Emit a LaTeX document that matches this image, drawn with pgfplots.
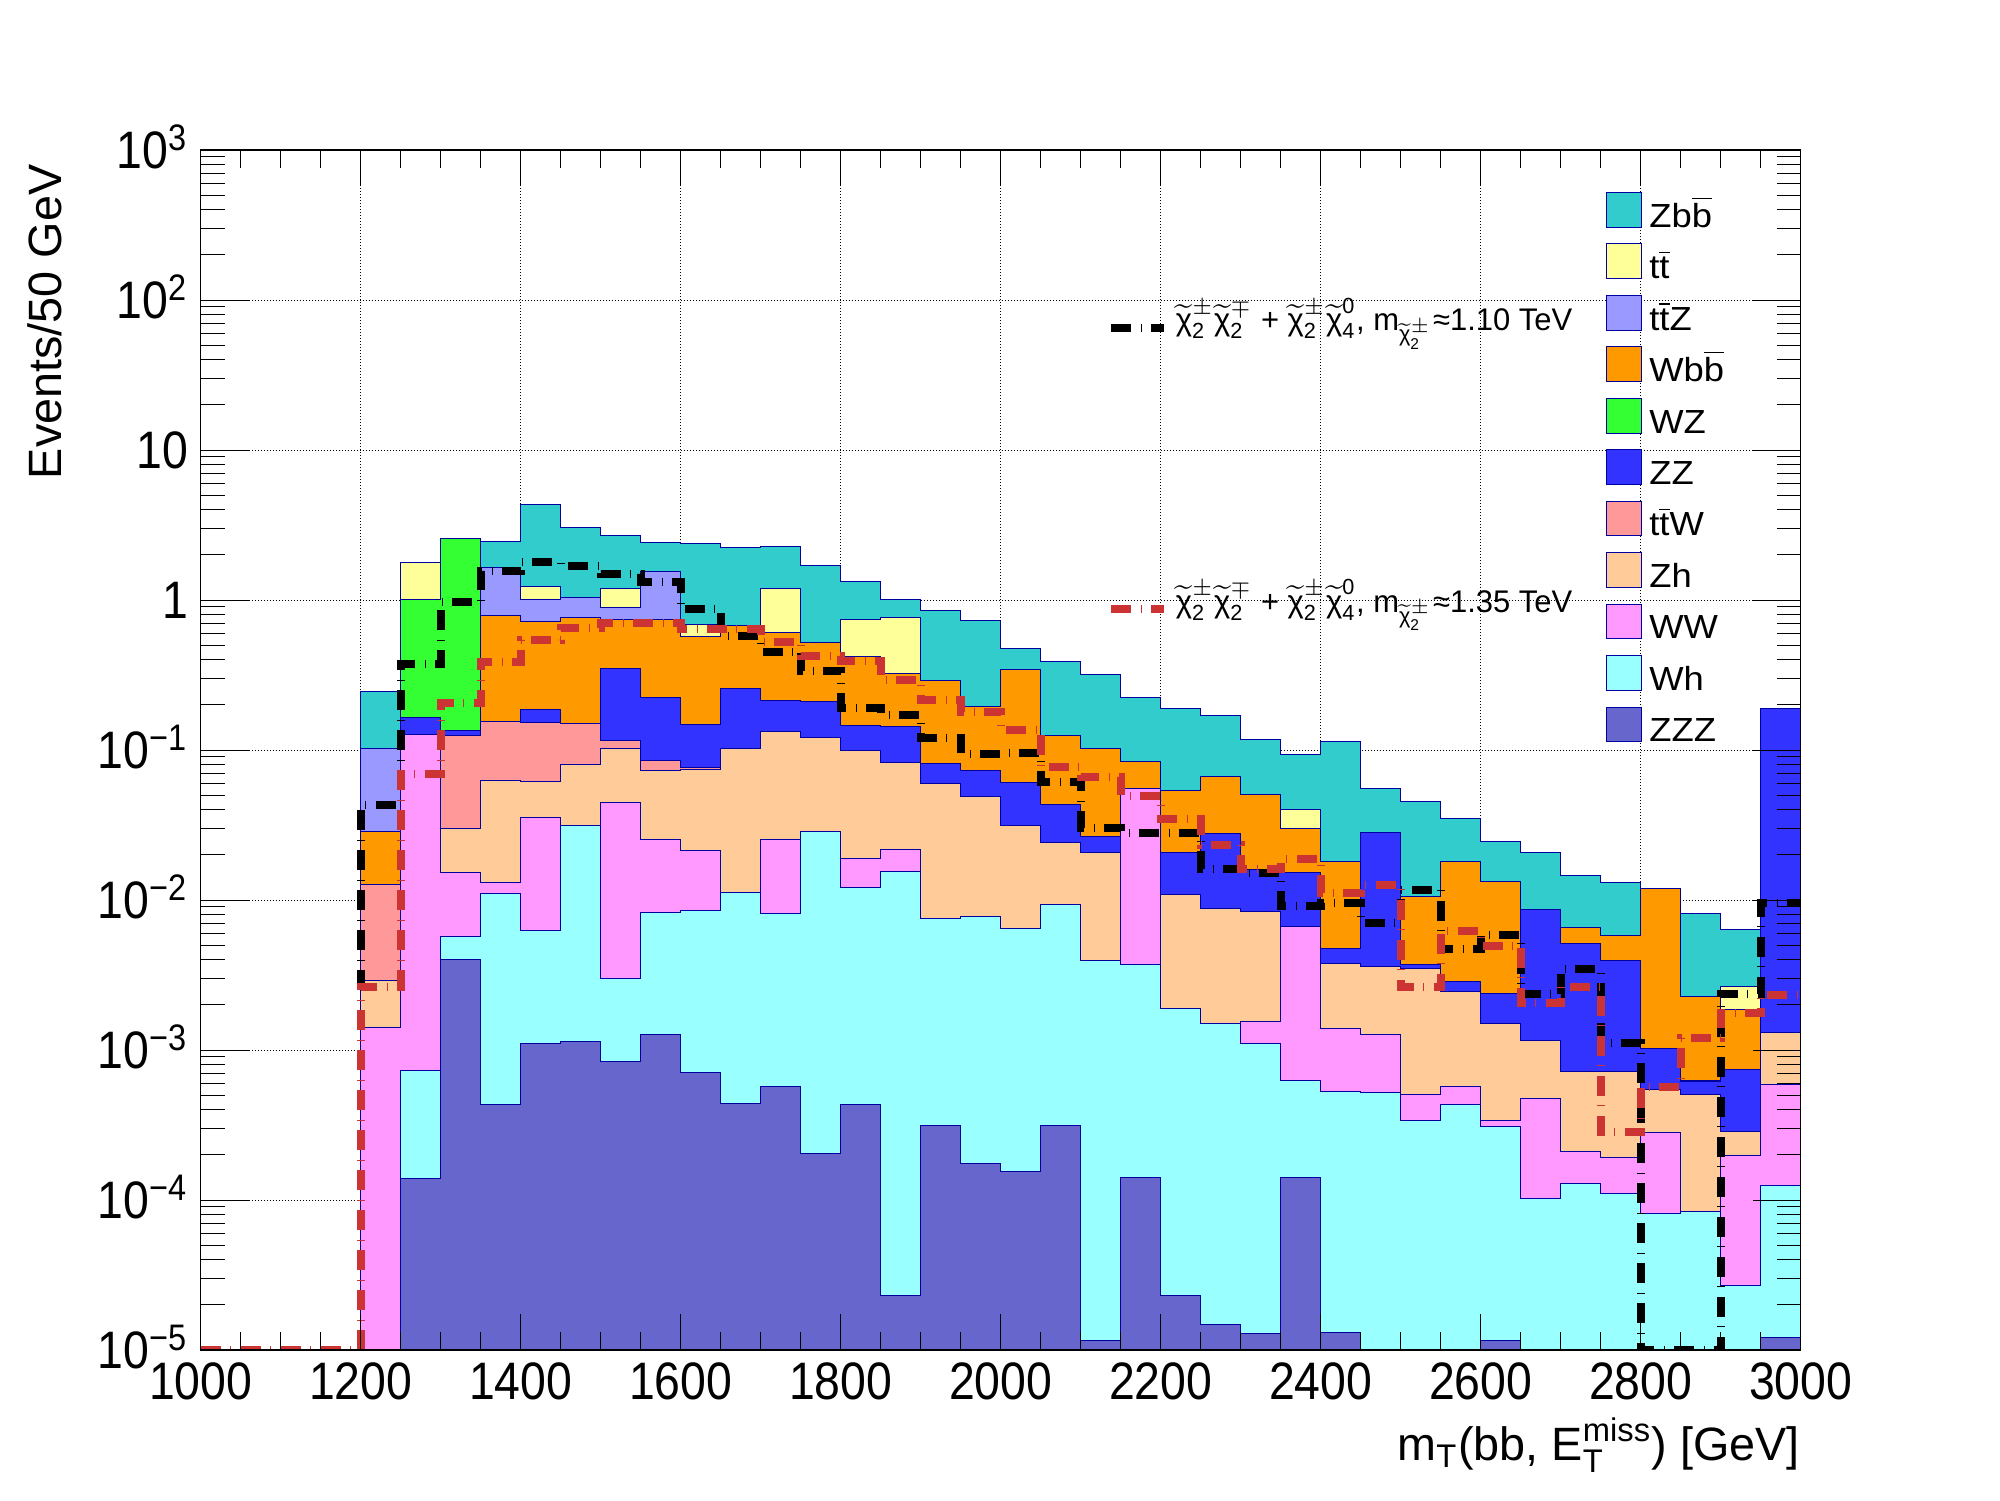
\documentclass[border=0pt]{standalone}
\usepackage{amsmath}
\usepackage{fontspec}
\setmainfont{Liberation Sans}
\newfontfamily\tickfont{Liberation Sans}[FakeStretch=0.88]
\newfontfamily\legfont{Liberation Sans}[FakeStretch=1.09]
\newfontfamily\sigfont{Liberation Sans}[FakeStretch=0.99]
\usepackage{pgfplots}
\usepackage{pgfplotstable}
\pgfplotsset{compat=1.18}

\definecolor{cZbb}{RGB}{51,204,204}
\definecolor{ctt}{RGB}{255,255,153}
\definecolor{cttZ}{RGB}{153,153,255}
\definecolor{cWbb}{RGB}{255,153,0}
\definecolor{cWZ}{RGB}{51,255,51}
\definecolor{cZZ}{RGB}{51,51,255}
\definecolor{cttW}{RGB}{255,153,153}
\definecolor{cZh}{RGB}{255,204,153}
\definecolor{cWW}{RGB}{255,153,255}
\definecolor{cWh}{RGB}{153,255,255}
\definecolor{cZZZ}{RGB}{102,102,204}
\definecolor{navyline}{RGB}{0,0,160}
\definecolor{sigred}{RGB}{204,51,51}

\newcommand{\cc}[2]{\widetilde{\text{χ}}^{#1}_{\text{#2}}}

% cumulative tops of the stacked layers (bin left edges, 50 GeV bins)
\pgfplotstableread{
x    zbb     tt      ttz     wbb     wz      zz      ttw     zh      ww      wh      zzz
1000 1e-9    1e-9    1e-9    1e-9    1e-9    1e-9    1e-9    1e-9    1e-9    1e-9    1e-9
1000 1e-9    1e-9    1e-9    1e-9    1e-9    1e-9    1e-9    1e-9    1e-9    1e-9    1e-9
1050 1e-9    1e-9    1e-9    1e-9    1e-9    1e-9    1e-9    1e-9    1e-9    1e-9    1e-9
1100 1e-9    1e-9    1e-9    1e-9    1e-9    1e-9    1e-9    1e-9    1e-9    1e-9    1e-9
1150 1e-9    1e-9    1e-9    1e-9    1e-9    1e-9    1e-9    1e-9    1e-9    1e-9    1e-9
1200 0.247   0.1026  0.1026  0.0288  0.0126  0.0126  0.0126  0.00292 0.00142 1e-9    1e-9
1250 1.78    1.78    1.015   1.015   1.015   0.165   0.127   0.127   0.127   7.3e-4  1.39e-4
1300 2.58    2.58    2.58    2.58    2.58    0.134   0.125   0.030   0.0153  0.00573 0.00402
1350 2.46    1.64    1.64    0.79    0.156   0.156   0.156   0.0628  0.0131  0.0111  4.3e-4
1400 4.35    1.23    1.01    0.72    0.187   0.187   0.152   0.0621  0.0356  0.00628 0.00111
1450 3.05    1.04    1.04    0.759   0.151   0.151   0.151   0.0803  0.0316  0.0316  0.00114
1500 2.70    1.20    0.894   0.744   0.351   0.351   0.116   0.103   0.0448  0.0030  8.4e-4
1550 2.43    1.55    1.55    0.744   0.224   0.224   0.0854  0.0732  0.0254  0.00828 0.00127
1600 2.38    0.689   0.575   0.575   0.147   0.147   0.077   0.0736  0.0214  0.00853 7.1e-4
1650 2.24    0.678   0.678   0.678   0.258   0.258   0.1026  0.1026  0.01125 0.01125 4.4e-4
1700 2.28    1.20    0.603   0.603   0.214   0.214   0.132   0.132   0.0254  0.00815 5.7e-4
1750 1.69    0.522   0.522   0.522   0.21    0.21    0.121   0.121   0.0287  0.0287  2.03e-4
1800 1.33    0.744   0.419   0.419   0.145   0.145   0.0995  0.0995  0.019   0.0121  4.3e-4
1850 1.01    0.766   0.325   0.325   0.144   0.144   0.0828  0.0828  0.0218  0.0155  2.3e-5
1900 0.853   0.292   0.292   0.292   0.0815  0.0815  0.06    0.06    0.00755 0.00755 3.15e-4
1950 0.732   0.194   0.194   0.194   0.0732  0.0732  0.049   0.049   0.00778 0.00778 1.76e-4
2000 0.477   0.345   0.345   0.345   0.0612  0.0612  0.0315  0.0315  0.00648 0.00648 1.54e-4
2050 0.39    0.125   0.125   0.125   0.043   0.043   0.0242  0.0242  0.00936 0.00936 3.15e-4
2100 0.321   0.1026  0.1026  0.1026  0.0267  0.0267  0.0208  0.0208  0.00396 0.00396 1.16e-5
2150 0.224   0.084   0.084   0.084   0.0556  0.0556  0.0556  0.0556  0.0556  0.00374 1.42e-4
2200 0.19    0.0539  0.0539  0.0539  0.0208  0.0208  0.0109  0.0109  0.00188 0.00188 2.3e-5
2250 0.17    0.0668  0.0668  0.0668  0.0278  0.0278  0.0088  0.0088  0.00151 0.00151 1.48e-5
2300 0.118   0.0506  0.0506  0.0506  0.016   0.016   0.0084  0.0084  0.00155 0.00111 1.29e-5
2350 0.0936  0.0402  0.0301  0.0301  0.0153  0.0153  0.00668 0.00668 0.00668 6.3e-4  1.42e-4
2400 0.114   0.0181  0.0181  0.0181  0.00476 0.00476 0.00378 0.00378 0.0014  5.3e-4  1.31e-5
2450 0.0556  0.0283  0.0283  0.0283  0.0283  0.0283  0.00361 0.00361 0.00127 5.2e-4  1e-9
2500 0.0455  0.0105  0.0105  0.0105  0.0037  0.0037  0.0035  0.0035  5.07e-4 3.4e-4  1e-9
2550 0.0352  0.0181  0.0181  0.0181  0.00288 0.00288 0.00247 0.00247 5.7e-4  4.3e-4  1e-9
2600 0.0247  0.0133  0.0133  0.0133  0.00239 0.00239 0.00151 0.00151 3.4e-4  3.1e-4  1.16e-5
2650 0.0208  0.00858 0.00858 0.00858 0.00858 0.00858 0.00116 0.00116 4.76e-4 1.03e-4 1e-9
2700 0.0146  0.00658 0.00658 0.00658 0.00514 0.00514 7.2e-4  7.2e-4  2.11e-4 1.29e-4 1e-9
2750 0.0131  0.00581 0.00581 0.00581 0.00398 0.00398 7.2e-4  7.2e-4  1.93e-4 1.11e-4 1e-9
2800 0.012   0.012   0.012   0.012   0.00102 0.00102 5.47e-4 5.47e-4 2.8e-4  8.15e-5 1e-9
2850 0.00815 0.00228 0.00228 0.00228 6.3e-4  6.2e-4  5.07e-4 5.07e-4 8.4e-5  8.4e-5  1e-9
2900 0.00638 0.00266 0.00185 0.00185 7.36e-4 7.36e-4 2.87e-4 2.87e-4 1.99e-4 2.7e-5  1e-9
2950 0.19    0.19    0.19    0.19    0.19    0.19    0.00131 0.00131 5.9e-4  1.25e-4 1.22e-5
3000 0.19    0.19    0.19    0.19    0.19    0.19    0.00131 0.00131 5.9e-4  1.25e-4 1.22e-5
3000 1e-9    1e-9    1e-9    1e-9    1e-9    1e-9    1e-9    1e-9    1e-9    1e-9    1e-9
}\stack

\pgfplotsset{
  /pgfplots/stacklayer/.style={const plot mark left, fill=#1, draw=navyline, line width=0.1mm},
  /pgfplots/sigline/.style={const plot mark left, draw=#1, line width=0.8mm,
    dash pattern=on 2mm off 0.95mm on 0.1mm off 0.95mm},
}

\begin{document}
\begin{tikzpicture}
\useasboundingbox (-20.07mm,-15mm) rectangle (179.93mm,135mm);
\begin{axis}[
  ymode=log, xmin=1000, xmax=3000, ymin=1e-5, ymax=1e3,
  scale only axis, width=160mm, height=120mm,
  at={(0,0)}, anchor=south west,
  axis line style={line width=0.12mm},
  xtick={1000,1200,...,3000},
  xticklabels={1000,1200,1400,1600,1800,2000,2200,2400,2600,2800,3000},
  ytick={1e-5,1e-4,1e-3,1e-2,1e-1,1,10,100,1000},
  yticklabels={10\textsuperscript{−5},10\textsuperscript{−4},10\textsuperscript{−3},10\textsuperscript{−2},10\textsuperscript{−1},1,10,10\textsuperscript{2},10\textsuperscript{3}},
  tick style={draw=none},
  grid=major,
  major grid style={black, line width=0.1mm, dash pattern=on 0.1mm off 0.2mm},
  xticklabel style={font=\tickfont\fontsize{15}{18}\selectfont, anchor=base, inner sep=0pt, yshift=-4.95mm},
  yticklabel style={font=\tickfont\fontsize{15}{18}\selectfont, anchor=base east, inner sep=0pt, xshift=-1.2mm, yshift=-1.89mm},
  every axis x label/.style={at={(rel axis cs:1,0)}, anchor=base east, yshift=-11.0mm, inner sep=0pt, font=\fontsize{13.3}{16}\selectfont},
  every axis y label/.style={at={(rel axis cs:0,1)}, xshift=-15.6mm, yshift=-1.4mm, rotate=90, anchor=east, inner sep=0pt, font=\fontsize{13.3}{16}\selectfont},
  xlabel={m$_{\text{T}}$(bb, E$^{\text{miss}}_{\text{T}}$) [GeV]},
  ylabel={Events/50 GeV},
  legend image code/.code={\draw[#1, draw=navyline, line width=0.1mm] (0mm,-0.635mm) rectangle (3.5mm,2.835mm);},
  legend cell align=left,
  legend style={draw=none, fill=none, at={(rel axis cs:0.8785,0.965)}, anchor=north west,
    inner sep=0pt, outer sep=0pt, row sep=0pt, column sep=0.7mm,
    font=\legfont\fontsize{9.5}{10}\selectfont,
    nodes={inner sep=0pt, text height=2.9mm, text depth=1.62mm}},
]
\addplot[stacklayer=cZbb] table[x=x,y=zbb]{\stack};
\addlegendentry{Zb$\overline{\mbox{b}}$}
\addplot[stacklayer=ctt] table[x=x,y=tt]{\stack};
\addlegendentry{t$\overline{\mbox{t}}$}
\addplot[stacklayer=cttZ] table[x=x,y=ttz]{\stack};
\addlegendentry{t$\overline{\mbox{t}}$Z}
\addplot[stacklayer=cWbb] table[x=x,y=wbb]{\stack};
\addlegendentry{Wb$\overline{\mbox{b}}$}
\addplot[stacklayer=cWZ] table[x=x,y=wz]{\stack};
\addlegendentry{WZ}
\addplot[stacklayer=cZZ] table[x=x,y=zz]{\stack};
\addlegendentry{ZZ}
\addplot[stacklayer=cttW] table[x=x,y=ttw]{\stack};
\addlegendentry{t$\overline{\mbox{t}}$W}
\addplot[stacklayer=cZh] table[x=x,y=zh]{\stack};
\addlegendentry{Zh}
\addplot[stacklayer=cWW] table[x=x,y=ww]{\stack};
\addlegendentry{WW}
\addplot[stacklayer=cWh] table[x=x,y=wh]{\stack};
\addlegendentry{Wh}
\addplot[stacklayer=cZZZ] table[x=x,y=zzz]{\stack};
\addlegendentry{ZZZ}

% signal, m = 1.10 TeV
\addplot[sigline=black] coordinates {
(1000,1e-5)(1050,1e-5)(1100,1e-5)(1150,1e-5)(1200,0.043)(1250,0.372)(1300,0.975)(1350,1.55)
(1400,1.80)(1450,1.69)(1500,1.50)(1550,1.32)(1600,0.867)(1650,0.575)(1700,0.453)(1750,0.338)
(1800,0.191)(1850,0.172)(1900,0.121)(1950,0.0945)(2000,0.096)(2050,0.0615)(2100,0.0303)(2150,0.0281)
(2200,0.0281)(2250,0.0162)(2300,0.0152)(2350,0.00917)(2400,0.0095)(2450,0.00706)(2500,0.0117)(2550,0.00474)
(2600,0.00584)(2650,0.00237)(2700,0.00349)(2750,0.00112)(2800,1e-5)(2850,1e-5)(2900,0.00237)(2950,0.0095)
(3000,0.0095)};
% signal, m = 1.35 TeV
\addplot[sigline=sigred] coordinates {
(1000,1e-5)(1050,1e-5)(1100,1e-5)(1150,1e-5)(1200,0.00264)(1250,0.069)(1300,0.205)(1350,0.388)
(1400,0.541)(1450,0.647)(1500,0.706)(1550,0.706)(1600,0.644)(1650,0.64)(1700,0.525)(1750,0.425)
(1800,0.394)(1850,0.293)(1900,0.216)(1950,0.18)(2000,0.136)(2050,0.0766)(2100,0.0664)(2150,0.0496)
(2200,0.0349)(2250,0.0233)(2300,0.0161)(2350,0.0188)(2400,0.0112)(2450,0.0126)(2500,0.00264)(2550,0.00625)
(2600,0.00496)(2650,0.00207)(2700,0.00264)(2750,2.84e-4)(2800,5.7e-4)(2850,1.2e-3)(2900,1.77e-3)(2950,2.33e-3)
(3000,2.33e-3)};

% signal legend
\draw[black, line width=0.8mm, dash pattern=on 2mm off 0.95mm on 0.1mm off 0.95mm]
  (rel axis cs:0.569,0.852) -- (rel axis cs:0.602,0.852);
\node[anchor=base west, inner sep=0pt, font=\sigfont\fontsize{8.9}{10}\selectfont]
  at (rel axis cs:0.609,0.8494) {$\cc{\pm}{2}\cc{\mp}{2}$ + $\cc{\pm}{2}\cc{\text{0}}{4}$, m$_{\cc{\pm}{2}}$≈1.10 TeV};
\draw[sigred, line width=0.8mm, dash pattern=on 2mm off 0.95mm on 0.1mm off 0.95mm]
  (rel axis cs:0.569,0.6175) -- (rel axis cs:0.602,0.6175);
\node[anchor=base west, inner sep=0pt, font=\sigfont\fontsize{8.9}{10}\selectfont]
  at (rel axis cs:0.609,0.615) {$\cc{\pm}{2}\cc{\mp}{2}$ + $\cc{\pm}{2}\cc{\text{0}}{4}$, m$_{\cc{\pm}{2}}$≈1.35 TeV};
\end{axis}

% x ticks on top of everything
\begin{axis}[
  ymode=log, xmin=1000, xmax=3000, ymin=1e-5, ymax=1e3,
  scale only axis, width=160mm, height=120mm,
  at={(0,0)}, anchor=south west,
  axis line style={line width=0.12mm},
  xtick={1000,1200,...,3000}, xticklabels={}, minor x tick num=3,
  ytick=\empty, tick align=inside, tick pos=both,
  major tick length=3.6mm, minor tick length=1.8mm,
  tick style={black, line width=0.1mm},
]
\end{axis}
% y ticks on top of everything
\begin{axis}[
  ymode=log, xmin=1000, xmax=3000, ymin=1e-5, ymax=1e3,
  scale only axis, width=160mm, height=120mm,
  at={(0,0)}, anchor=south west,
  axis line style={line width=0.12mm},
  xtick=\empty,
  ytick={1e-5,1e-4,1e-3,1e-2,1e-1,1,10,100,1000}, yticklabels={},
  minor ytick={2e-5,3e-5,4e-5,5e-5,6e-5,7e-5,8e-5,9e-5,
    2e-4,3e-4,4e-4,5e-4,6e-4,7e-4,8e-4,9e-4,
    2e-3,3e-3,4e-3,5e-3,6e-3,7e-3,8e-3,9e-3,
    0.02,0.03,0.04,0.05,0.06,0.07,0.08,0.09,
    0.2,0.3,0.4,0.5,0.6,0.7,0.8,0.9,
    2,3,4,5,6,7,8,9,
    20,30,40,50,60,70,80,90,
    200,300,400,500,600,700,800,900},
  tick align=inside, tick pos=both,
  major tick length=4.8mm, minor tick length=2.4mm,
  tick style={black, line width=0.1mm},
]
\end{axis}
\end{tikzpicture}
\end{document}
